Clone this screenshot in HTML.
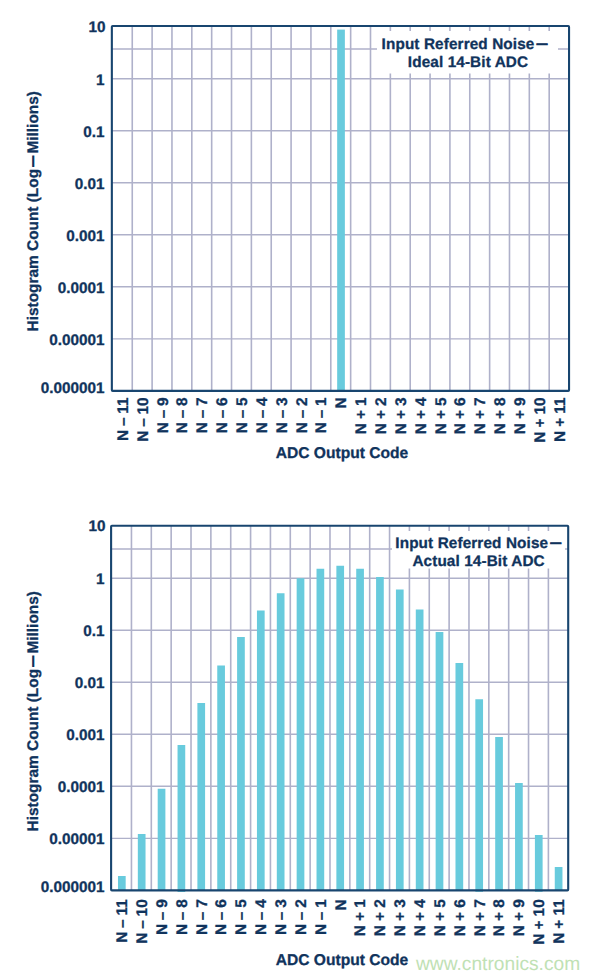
<!DOCTYPE html>
<html lang="en">
<head>
<meta charset="utf-8">
<title>Input Referred Noise Histograms</title>
<style>
html,body{margin:0;padding:0;background:#fff;}
body{width:600px;height:979px;overflow:hidden;}
svg{display:block;}
svg text{font-family:'Liberation Sans', Arial, Helvetica, sans-serif;font-weight:bold;text-rendering:geometricPrecision;stroke:#10335c;stroke-width:0.3px;stroke-linejoin:round;}
svg text.wm{font-weight:normal;stroke:none;}
svg tspan.d{stroke-width:1px;stroke-linejoin:miter;}
</style>
</head>
<body>
<svg width="600" height="979" viewBox="0 0 600 979">
<rect x="0" y="0" width="600" height="979" fill="#ffffff"/>
<g id="chart-ideal">
<line x1="132.25" y1="25.95" x2="132.25" y2="390.90" stroke="#afb1ca" stroke-width="1.6"/>
<line x1="152.11" y1="25.95" x2="152.11" y2="390.90" stroke="#afb1ca" stroke-width="1.6"/>
<line x1="171.96" y1="25.95" x2="171.96" y2="390.90" stroke="#afb1ca" stroke-width="1.6"/>
<line x1="191.82" y1="25.95" x2="191.82" y2="390.90" stroke="#afb1ca" stroke-width="1.6"/>
<line x1="211.67" y1="25.95" x2="211.67" y2="390.90" stroke="#afb1ca" stroke-width="1.6"/>
<line x1="231.52" y1="25.95" x2="231.52" y2="390.90" stroke="#afb1ca" stroke-width="1.6"/>
<line x1="251.38" y1="25.95" x2="251.38" y2="390.90" stroke="#afb1ca" stroke-width="1.6"/>
<line x1="271.23" y1="25.95" x2="271.23" y2="390.90" stroke="#afb1ca" stroke-width="1.6"/>
<line x1="291.09" y1="25.95" x2="291.09" y2="390.90" stroke="#afb1ca" stroke-width="1.6"/>
<line x1="310.94" y1="25.95" x2="310.94" y2="390.90" stroke="#afb1ca" stroke-width="1.6"/>
<line x1="330.79" y1="25.95" x2="330.79" y2="390.90" stroke="#afb1ca" stroke-width="1.6"/>
<line x1="350.65" y1="25.95" x2="350.65" y2="390.90" stroke="#afb1ca" stroke-width="1.6"/>
<line x1="370.50" y1="25.95" x2="370.50" y2="390.90" stroke="#afb1ca" stroke-width="1.6"/>
<line x1="390.36" y1="25.95" x2="390.36" y2="390.90" stroke="#afb1ca" stroke-width="1.6"/>
<line x1="410.21" y1="25.95" x2="410.21" y2="390.90" stroke="#afb1ca" stroke-width="1.6"/>
<line x1="430.06" y1="25.95" x2="430.06" y2="390.90" stroke="#afb1ca" stroke-width="1.6"/>
<line x1="449.92" y1="25.95" x2="449.92" y2="390.90" stroke="#afb1ca" stroke-width="1.6"/>
<line x1="469.77" y1="25.95" x2="469.77" y2="390.90" stroke="#afb1ca" stroke-width="1.6"/>
<line x1="489.63" y1="25.95" x2="489.63" y2="390.90" stroke="#afb1ca" stroke-width="1.6"/>
<line x1="509.48" y1="25.95" x2="509.48" y2="390.90" stroke="#afb1ca" stroke-width="1.6"/>
<line x1="529.33" y1="25.95" x2="529.33" y2="390.90" stroke="#afb1ca" stroke-width="1.6"/>
<line x1="549.19" y1="25.95" x2="549.19" y2="390.90" stroke="#afb1ca" stroke-width="1.6"/>
<line x1="111.85" y1="78.66" x2="569.05" y2="78.66" stroke="#afb1ca" stroke-width="1.45"/>
<line x1="111.85" y1="130.70" x2="569.05" y2="130.70" stroke="#afb1ca" stroke-width="1.45"/>
<line x1="111.85" y1="182.74" x2="569.05" y2="182.74" stroke="#afb1ca" stroke-width="1.45"/>
<line x1="111.85" y1="234.78" x2="569.05" y2="234.78" stroke="#afb1ca" stroke-width="1.45"/>
<line x1="111.85" y1="286.82" x2="569.05" y2="286.82" stroke="#afb1ca" stroke-width="1.45"/>
<line x1="111.85" y1="338.86" x2="569.05" y2="338.86" stroke="#afb1ca" stroke-width="1.45"/>
<line x1="111.85" y1="49.00" x2="569.05" y2="49.00" stroke="#afb1ca" stroke-width="1.6"/>
<rect x="377" y="31" width="181" height="42.5" fill="#fff"/>
<rect x="337.17" y="29.60" width="7.7" height="361.30" fill="#68cbdd"/>
<rect x="111.85" y="25.95" width="457.20" height="364.95" fill="none" stroke="#18456f" stroke-width="2.1" stroke-linejoin="round" rx="0.8"/>
<text x="381.6" y="48.6" font-size="15.3" letter-spacing="0.12" fill="#10335c">Input Referred Noise<tspan class="d" dx="2.3" dy="-2" font-size="10.5">—</tspan></text>
<text x="407.8" y="66.6" font-size="15.3" letter-spacing="0.12" fill="#10335c">Ideal 14-Bit ADC</text>
<text x="105.5" y="31.85" font-size="15.3" text-anchor="end" fill="#10335c">10</text>
<text x="104.6" y="84.56" font-size="15.3" text-anchor="end" fill="#10335c">1</text>
<text x="104.6" y="136.60" font-size="15.3" text-anchor="end" fill="#10335c">0.1</text>
<text x="104.6" y="188.64" font-size="15.3" text-anchor="end" fill="#10335c">0.01</text>
<text x="104.6" y="240.68" font-size="15.3" text-anchor="end" fill="#10335c">0.001</text>
<text x="104.6" y="292.72" font-size="15.3" text-anchor="end" fill="#10335c">0.0001</text>
<text x="104.6" y="344.76" font-size="15.3" text-anchor="end" fill="#10335c">0.00001</text>
<text x="104.6" y="392.70" font-size="15.3" text-anchor="end" fill="#10335c">0.000001</text>
<text transform="translate(127.93,397.40) rotate(-90)" font-size="15.4" word-spacing="-0.5" text-anchor="end" fill="#10335c">N – 11</text>
<text transform="translate(147.78,397.40) rotate(-90)" font-size="15.4" word-spacing="-0.5" text-anchor="end" fill="#10335c">N – 10</text>
<text transform="translate(167.63,397.40) rotate(-90)" font-size="15.4" word-spacing="-0.5" text-anchor="end" fill="#10335c">N – 9</text>
<text transform="translate(187.49,397.40) rotate(-90)" font-size="15.4" word-spacing="-0.5" text-anchor="end" fill="#10335c">N – 8</text>
<text transform="translate(207.34,397.40) rotate(-90)" font-size="15.4" word-spacing="-0.5" text-anchor="end" fill="#10335c">N – 7</text>
<text transform="translate(227.20,397.40) rotate(-90)" font-size="15.4" word-spacing="-0.5" text-anchor="end" fill="#10335c">N – 6</text>
<text transform="translate(247.05,397.40) rotate(-90)" font-size="15.4" word-spacing="-0.5" text-anchor="end" fill="#10335c">N – 5</text>
<text transform="translate(266.91,397.40) rotate(-90)" font-size="15.4" word-spacing="-0.5" text-anchor="end" fill="#10335c">N – 4</text>
<text transform="translate(286.76,397.40) rotate(-90)" font-size="15.4" word-spacing="-0.5" text-anchor="end" fill="#10335c">N – 3</text>
<text transform="translate(306.61,397.40) rotate(-90)" font-size="15.4" word-spacing="-0.5" text-anchor="end" fill="#10335c">N – 2</text>
<text transform="translate(326.47,397.40) rotate(-90)" font-size="15.4" word-spacing="-0.5" text-anchor="end" fill="#10335c">N – 1</text>
<text transform="translate(346.32,397.40) rotate(-90)" font-size="15.4" word-spacing="-0.2" text-anchor="end" fill="#10335c">N</text>
<text transform="translate(366.18,397.40) rotate(-90)" font-size="15.4" word-spacing="-0.2" text-anchor="end" fill="#10335c">N + 1</text>
<text transform="translate(386.03,397.40) rotate(-90)" font-size="15.4" word-spacing="-0.2" text-anchor="end" fill="#10335c">N + 2</text>
<text transform="translate(405.88,397.40) rotate(-90)" font-size="15.4" word-spacing="-0.2" text-anchor="end" fill="#10335c">N + 3</text>
<text transform="translate(425.74,397.40) rotate(-90)" font-size="15.4" word-spacing="-0.2" text-anchor="end" fill="#10335c">N + 4</text>
<text transform="translate(445.59,397.40) rotate(-90)" font-size="15.4" word-spacing="-0.2" text-anchor="end" fill="#10335c">N + 5</text>
<text transform="translate(465.45,397.40) rotate(-90)" font-size="15.4" word-spacing="-0.2" text-anchor="end" fill="#10335c">N + 6</text>
<text transform="translate(485.30,397.40) rotate(-90)" font-size="15.4" word-spacing="-0.2" text-anchor="end" fill="#10335c">N + 7</text>
<text transform="translate(505.15,397.40) rotate(-90)" font-size="15.4" word-spacing="-0.2" text-anchor="end" fill="#10335c">N + 8</text>
<text transform="translate(525.01,397.40) rotate(-90)" font-size="15.4" word-spacing="-0.2" text-anchor="end" fill="#10335c">N + 9</text>
<text transform="translate(544.86,397.40) rotate(-90)" font-size="15.4" word-spacing="-0.2" text-anchor="end" fill="#10335c">N + 10</text>
<text transform="translate(564.72,397.40) rotate(-90)" font-size="15.4" word-spacing="-0.2" text-anchor="end" fill="#10335c">N + 11</text>
<text transform="translate(38,211.25) rotate(-90)" font-size="15.4" text-anchor="middle" fill="#10335c">Histogram Count (Log<tspan class="d" dx="2.45" dy="-2" font-size="10.5">—</tspan><tspan dx="2.45" dy="2">Millions)</tspan></text>
<text x="342" y="457.60" font-size="15.6" text-anchor="middle" fill="#10335c">ADC Output Code</text>
</g>
<g id="chart-actual">
<line x1="131.45" y1="525.75" x2="131.45" y2="890.40" stroke="#afb1ca" stroke-width="1.6"/>
<line x1="151.31" y1="525.75" x2="151.31" y2="890.40" stroke="#afb1ca" stroke-width="1.6"/>
<line x1="171.16" y1="525.75" x2="171.16" y2="890.40" stroke="#afb1ca" stroke-width="1.6"/>
<line x1="191.02" y1="525.75" x2="191.02" y2="890.40" stroke="#afb1ca" stroke-width="1.6"/>
<line x1="210.87" y1="525.75" x2="210.87" y2="890.40" stroke="#afb1ca" stroke-width="1.6"/>
<line x1="230.72" y1="525.75" x2="230.72" y2="890.40" stroke="#afb1ca" stroke-width="1.6"/>
<line x1="250.58" y1="525.75" x2="250.58" y2="890.40" stroke="#afb1ca" stroke-width="1.6"/>
<line x1="270.43" y1="525.75" x2="270.43" y2="890.40" stroke="#afb1ca" stroke-width="1.6"/>
<line x1="290.29" y1="525.75" x2="290.29" y2="890.40" stroke="#afb1ca" stroke-width="1.6"/>
<line x1="310.14" y1="525.75" x2="310.14" y2="890.40" stroke="#afb1ca" stroke-width="1.6"/>
<line x1="329.99" y1="525.75" x2="329.99" y2="890.40" stroke="#afb1ca" stroke-width="1.6"/>
<line x1="349.85" y1="525.75" x2="349.85" y2="890.40" stroke="#afb1ca" stroke-width="1.6"/>
<line x1="369.70" y1="525.75" x2="369.70" y2="890.40" stroke="#afb1ca" stroke-width="1.6"/>
<line x1="389.56" y1="525.75" x2="389.56" y2="890.40" stroke="#afb1ca" stroke-width="1.6"/>
<line x1="409.41" y1="525.75" x2="409.41" y2="890.40" stroke="#afb1ca" stroke-width="1.6"/>
<line x1="429.26" y1="525.75" x2="429.26" y2="890.40" stroke="#afb1ca" stroke-width="1.6"/>
<line x1="449.12" y1="525.75" x2="449.12" y2="890.40" stroke="#afb1ca" stroke-width="1.6"/>
<line x1="468.97" y1="525.75" x2="468.97" y2="890.40" stroke="#afb1ca" stroke-width="1.6"/>
<line x1="488.83" y1="525.75" x2="488.83" y2="890.40" stroke="#afb1ca" stroke-width="1.6"/>
<line x1="508.68" y1="525.75" x2="508.68" y2="890.40" stroke="#afb1ca" stroke-width="1.6"/>
<line x1="528.53" y1="525.75" x2="528.53" y2="890.40" stroke="#afb1ca" stroke-width="1.6"/>
<line x1="548.39" y1="525.75" x2="548.39" y2="890.40" stroke="#afb1ca" stroke-width="1.6"/>
<line x1="111.10" y1="578.16" x2="568.20" y2="578.16" stroke="#afb1ca" stroke-width="1.45"/>
<line x1="111.10" y1="630.20" x2="568.20" y2="630.20" stroke="#afb1ca" stroke-width="1.45"/>
<line x1="111.10" y1="682.24" x2="568.20" y2="682.24" stroke="#afb1ca" stroke-width="1.45"/>
<line x1="111.10" y1="734.28" x2="568.20" y2="734.28" stroke="#afb1ca" stroke-width="1.45"/>
<line x1="111.10" y1="786.32" x2="568.20" y2="786.32" stroke="#afb1ca" stroke-width="1.45"/>
<line x1="111.10" y1="838.36" x2="568.20" y2="838.36" stroke="#afb1ca" stroke-width="1.45"/>
<line x1="111.10" y1="549.00" x2="568.20" y2="549.00" stroke="#afb1ca" stroke-width="1.6"/>
<rect x="392" y="531" width="173" height="37.5" fill="#fff"/>
<rect x="117.98" y="876.00" width="7.7" height="14.40" fill="#68cbdd"/>
<rect x="137.83" y="834.00" width="7.7" height="56.40" fill="#68cbdd"/>
<rect x="157.69" y="788.75" width="7.7" height="101.65" fill="#68cbdd"/>
<rect x="177.54" y="745.00" width="7.7" height="147.00" fill="#68cbdd"/>
<rect x="197.39" y="703.00" width="7.7" height="187.40" fill="#68cbdd"/>
<rect x="217.25" y="665.50" width="7.7" height="224.90" fill="#68cbdd"/>
<rect x="237.10" y="637.00" width="7.7" height="253.40" fill="#68cbdd"/>
<rect x="256.95" y="610.50" width="7.7" height="279.90" fill="#68cbdd"/>
<rect x="276.81" y="593.25" width="7.7" height="297.15" fill="#68cbdd"/>
<rect x="296.66" y="578.25" width="7.7" height="312.15" fill="#68cbdd"/>
<rect x="316.52" y="568.75" width="7.7" height="321.65" fill="#68cbdd"/>
<rect x="336.37" y="565.75" width="7.7" height="324.65" fill="#68cbdd"/>
<rect x="356.22" y="568.75" width="7.7" height="321.65" fill="#68cbdd"/>
<rect x="376.08" y="577.00" width="7.7" height="313.40" fill="#68cbdd"/>
<rect x="395.93" y="589.50" width="7.7" height="300.90" fill="#68cbdd"/>
<rect x="415.79" y="609.50" width="7.7" height="280.90" fill="#68cbdd"/>
<rect x="435.64" y="632.00" width="7.7" height="258.40" fill="#68cbdd"/>
<rect x="455.49" y="663.00" width="7.7" height="227.40" fill="#68cbdd"/>
<rect x="475.35" y="699.25" width="7.7" height="192.55" fill="#68cbdd"/>
<rect x="495.20" y="737.00" width="7.7" height="153.40" fill="#68cbdd"/>
<rect x="515.06" y="783.00" width="7.7" height="107.40" fill="#68cbdd"/>
<rect x="534.91" y="835.00" width="7.7" height="56.80" fill="#68cbdd"/>
<rect x="554.76" y="867.00" width="7.7" height="23.40" fill="#68cbdd"/>
<rect x="111.10" y="525.75" width="457.10" height="364.65" fill="none" stroke="#18456f" stroke-width="2.1" stroke-linejoin="round" rx="0.8"/>
<text x="395.3" y="547.5" font-size="15.3" letter-spacing="0.12" fill="#10335c">Input Referred Noise<tspan class="d" dx="2.3" dy="-2" font-size="10.5">—</tspan></text>
<text x="412.4" y="565.5" font-size="15.3" letter-spacing="0.12" fill="#10335c">Actual 14-Bit ADC</text>
<text x="105.5" y="531.05" font-size="15.3" text-anchor="end" fill="#10335c">10</text>
<text x="104.6" y="584.06" font-size="15.3" text-anchor="end" fill="#10335c">1</text>
<text x="104.6" y="636.10" font-size="15.3" text-anchor="end" fill="#10335c">0.1</text>
<text x="104.6" y="688.14" font-size="15.3" text-anchor="end" fill="#10335c">0.01</text>
<text x="104.6" y="740.18" font-size="15.3" text-anchor="end" fill="#10335c">0.001</text>
<text x="104.6" y="792.22" font-size="15.3" text-anchor="end" fill="#10335c">0.0001</text>
<text x="104.6" y="844.26" font-size="15.3" text-anchor="end" fill="#10335c">0.00001</text>
<text x="104.6" y="892.20" font-size="15.3" text-anchor="end" fill="#10335c">0.000001</text>
<text transform="translate(127.13,899.30) rotate(-90)" font-size="15.4" word-spacing="-0.5" text-anchor="end" fill="#10335c">N – 11</text>
<text transform="translate(146.98,899.30) rotate(-90)" font-size="15.4" word-spacing="-0.5" text-anchor="end" fill="#10335c">N – 10</text>
<text transform="translate(166.83,899.30) rotate(-90)" font-size="15.4" word-spacing="-0.5" text-anchor="end" fill="#10335c">N – 9</text>
<text transform="translate(186.69,899.30) rotate(-90)" font-size="15.4" word-spacing="-0.5" text-anchor="end" fill="#10335c">N – 8</text>
<text transform="translate(206.54,899.30) rotate(-90)" font-size="15.4" word-spacing="-0.5" text-anchor="end" fill="#10335c">N – 7</text>
<text transform="translate(226.40,899.30) rotate(-90)" font-size="15.4" word-spacing="-0.5" text-anchor="end" fill="#10335c">N – 6</text>
<text transform="translate(246.25,899.30) rotate(-90)" font-size="15.4" word-spacing="-0.5" text-anchor="end" fill="#10335c">N – 5</text>
<text transform="translate(266.11,899.30) rotate(-90)" font-size="15.4" word-spacing="-0.5" text-anchor="end" fill="#10335c">N – 4</text>
<text transform="translate(285.96,899.30) rotate(-90)" font-size="15.4" word-spacing="-0.5" text-anchor="end" fill="#10335c">N – 3</text>
<text transform="translate(305.81,899.30) rotate(-90)" font-size="15.4" word-spacing="-0.5" text-anchor="end" fill="#10335c">N – 2</text>
<text transform="translate(325.67,899.30) rotate(-90)" font-size="15.4" word-spacing="-0.5" text-anchor="end" fill="#10335c">N – 1</text>
<text transform="translate(345.52,899.30) rotate(-90)" font-size="15.4" word-spacing="-0.2" text-anchor="end" fill="#10335c">N</text>
<text transform="translate(365.38,899.30) rotate(-90)" font-size="15.4" word-spacing="-0.2" text-anchor="end" fill="#10335c">N + 1</text>
<text transform="translate(385.23,899.30) rotate(-90)" font-size="15.4" word-spacing="-0.2" text-anchor="end" fill="#10335c">N + 2</text>
<text transform="translate(405.08,899.30) rotate(-90)" font-size="15.4" word-spacing="-0.2" text-anchor="end" fill="#10335c">N + 3</text>
<text transform="translate(424.94,899.30) rotate(-90)" font-size="15.4" word-spacing="-0.2" text-anchor="end" fill="#10335c">N + 4</text>
<text transform="translate(444.79,899.30) rotate(-90)" font-size="15.4" word-spacing="-0.2" text-anchor="end" fill="#10335c">N + 5</text>
<text transform="translate(464.64,899.30) rotate(-90)" font-size="15.4" word-spacing="-0.2" text-anchor="end" fill="#10335c">N + 6</text>
<text transform="translate(484.50,899.30) rotate(-90)" font-size="15.4" word-spacing="-0.2" text-anchor="end" fill="#10335c">N + 7</text>
<text transform="translate(504.35,899.30) rotate(-90)" font-size="15.4" word-spacing="-0.2" text-anchor="end" fill="#10335c">N + 8</text>
<text transform="translate(524.21,899.30) rotate(-90)" font-size="15.4" word-spacing="-0.2" text-anchor="end" fill="#10335c">N + 9</text>
<text transform="translate(544.06,899.30) rotate(-90)" font-size="15.4" word-spacing="-0.2" text-anchor="end" fill="#10335c">N + 10</text>
<text transform="translate(563.91,899.30) rotate(-90)" font-size="15.4" word-spacing="-0.2" text-anchor="end" fill="#10335c">N + 11</text>
<text transform="translate(38,711.25) rotate(-90)" font-size="15.4" text-anchor="middle" fill="#10335c">Histogram Count (Log<tspan class="d" dx="2.45" dy="-2" font-size="10.5">—</tspan><tspan dx="2.45" dy="2">Millions)</tspan></text>
<text x="342" y="965.10" font-size="15.6" text-anchor="middle" fill="#10335c">ADC Output Code</text>
</g>
<text class="wm" x="416" y="970.2" font-size="19.2" fill="#c0e1b4">www.cntronics.com</text>
</svg>
</body>
</html>
